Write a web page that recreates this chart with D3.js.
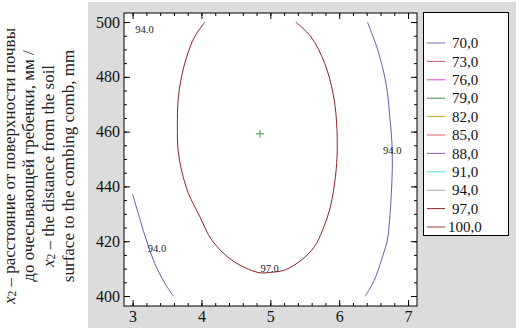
<!doctype html>
<html lang="ru">
<head>
    <meta charset="UTF-8">
    <title>Contour x1-x2</title>
    <style>
        body { margin: 0; background: #fff; }
        svg text { font-family: "Liberation Serif", "DejaVu Serif", serif; }
        .tick line { stroke: #000; }
        .tick text { font-size: 16px; fill: #111; }
    </style>
</head>
<body>
    <svg width="519" height="333"></svg>
    <script src="https://cdn.jsdelivr.net/npm/d3@7"></script>
    <script>
        // values
        const xTicks = [3, 4, 5, 6, 7],
            yTicks = [400, 420, 440, 460, 480, 500];

        const legendLevels = ["70,0", "73,0", "76,0", "79,0", "82,0", "85,0", "88,0", "91,0", "94,0", "97,0", "100,0"],
            legendColors = ["#7272bd", "#c45a5a", "#e044e0", "#3f8a3f", "#b3b035", "#e06464", "#8464b0", "#4ee0e0", "#a6a6a6", "#8e2424", "#a33a3a"];

        // contour lines [x1, x2]
        const contour97 = [
            [4.05, 500], [3.90, 494.6], [3.78, 486.9], [3.71, 480.0], [3.66, 471.5], [3.65, 462.4],
            [3.66, 453.3], [3.71, 446.0], [3.81, 437.5], [3.98, 428.8], [4.15, 420.4], [4.44, 413.1],
            [4.82, 408.6], [4.99, 408.6], [5.21, 409.5], [5.45, 413.1], [5.64, 418.0], [5.76, 424.1],
            [5.86, 431.4], [5.93, 440.5], [5.97, 451.5], [5.96, 464.2], [5.91, 474.0], [5.79, 484.9],
            [5.59, 494.6], [5.37, 500]
        ];
        const contour94Left = [
            [3.00, 437.2], [3.11, 427.7], [3.20, 420.4], [3.32, 411.9], [3.47, 404.6], [3.59, 400]
        ];
        const contour94Right = [
            [6.41, 500], [6.56, 489.8], [6.68, 477.6], [6.73, 466.8], [6.77, 453.3], [6.76, 438.7],
            [6.70, 420.4], [6.66, 416.8], [6.51, 405.8], [6.38, 400]
        ];
        const contourLabels = [
            {text: "94.0", x: 3.04, y: 497.5, anchor: "start"},
            {text: "94.0", x: 3.22, y: 417.5, anchor: "start"},
            {text: "94.0", x: 6.77, y: 453.3, anchor: "middle"},
            {text: "97.0", x: 4.99, y: 410.2, anchor: "middle"}
        ];
        const optimum = [4.85, 459.2];

        const svg = d3.select("svg"),
            plot = {left: 124, top: 13, right: 417, bottom: 306};

        svg.append("rect")
            .attr("x", 88).attr("y", 2).attr("width", 428).attr("height", 326)
            .attr("fill", "#dcdcdc");

        svg.append("rect")
            .attr("x", plot.left).attr("y", plot.top)
            .attr("width", plot.right - plot.left).attr("height", plot.bottom - plot.top)
            .attr("fill", "#fff");

        const x = d3.scaleLinear()
            .domain([2.875, 7.13])
            .range([plot.left, plot.right]);

        const y = d3.scaleLinear()
            .domain([396.35, 503.3])
            .range([plot.bottom, plot.top]);

        const xMinor = d3.range(3, 7.001, 0.2),
            yMinor = d3.range(400, 500.01, 5);

        // minor ticks, all four sides, pointing inward
        svg.append("g").attr("transform", "translate(0," + plot.bottom + ")")
            .call(d3.axisBottom(x).tickValues(xMinor).tickSize(-3).tickFormat(""));
        svg.append("g").attr("transform", "translate(0," + plot.top + ")")
            .call(d3.axisTop(x).tickValues(xMinor).tickSize(-3).tickFormat(""));
        svg.append("g").attr("transform", "translate(" + plot.left + ",0)")
            .call(d3.axisLeft(y).tickValues(yMinor).tickSize(-3).tickFormat(""));
        svg.append("g").attr("transform", "translate(" + plot.right + ",0)")
            .call(d3.axisRight(y).tickValues(yMinor).tickSize(-3).tickFormat(""));

        // major ticks
        svg.append("g").attr("transform", "translate(0," + plot.bottom + ")")
            .call(d3.axisBottom(x).tickValues(xTicks).tickSize(-6).tickPadding(5).tickFormat(d3.format("d")));
        svg.append("g").attr("transform", "translate(0," + plot.top + ")")
            .call(d3.axisTop(x).tickValues(xTicks).tickSize(-6).tickFormat(""));
        svg.append("g").attr("transform", "translate(" + plot.left + ",0)")
            .call(d3.axisLeft(y).tickValues(yTicks).tickSize(-6).tickPadding(4).tickFormat(d3.format("d")));
        svg.append("g").attr("transform", "translate(" + plot.right + ",0)")
            .call(d3.axisRight(y).tickValues(yTicks).tickSize(-6).tickFormat(""));

        svg.selectAll(".domain").remove();

        svg.append("rect")
            .attr("x", plot.left).attr("y", plot.top)
            .attr("width", plot.right - plot.left).attr("height", plot.bottom - plot.top)
            .attr("fill", "none").attr("stroke", "#000").attr("stroke-width", 1);

        // contours
        const line = d3.line()
            .x(d => x(d[0]))
            .y(d => y(d[1]))
            .curve(d3.curveCatmullRom);

        svg.append("path").datum(contour97)
            .attr("d", line).attr("fill", "none").attr("stroke", "#8e2424").attr("stroke-width", 1);
        svg.append("path").datum(contour94Left)
            .attr("d", line).attr("fill", "none").attr("stroke", "#5f5fb0").attr("stroke-width", 1);
        svg.append("path").datum(contour94Right)
            .attr("d", line).attr("fill", "none").attr("stroke", "#5f5fb0").attr("stroke-width", 1);

        svg.selectAll(".clabel")
            .data(contourLabels)
            .enter().append("text")
            .attr("class", "clabel")
            .attr("x", d => x(d.x))
            .attr("y", d => y(d.y))
            .attr("dy", "0.35em")
            .attr("text-anchor", d => d.anchor)
            .attr("font-size", 10.5)
            .attr("fill", "#222")
            .text(d => d.text);

        // optimum marker
        svg.append("path")
            .attr("transform", "translate(" + x(optimum[0]) + "," + y(optimum[1]) + ")")
            .attr("fill", "none")
            .attr("stroke", "#3f9a3f")
            .attr("stroke-width", 1)
            .attr("d", "M-4,0H4M0,-4V4");

        // legend
        const legend = svg.append("g");
        legend.append("rect")
            .attr("x", 423.5).attr("y", 12.5).attr("width", 85).attr("height", 223)
            .attr("fill", "#fff").attr("stroke", "#000");

        const item = legend.selectAll(".item")
            .data(legendLevels)
            .enter().append("g")
            .attr("class", "item")
            .attr("transform", (d, i) => "translate(0," + (43 + i * 18.4) + ")");

        item.append("line")
            .attr("x1", 427).attr("x2", 445)
            .attr("stroke", (d, i) => legendColors[i]).attr("stroke-width", 1);

        item.append("text")
            .attr("x", (d, i) => d.length > 4 ? 448 : 452)
            .attr("dy", "0.35em")
            .attr("font-size", 15)
            .attr("fill", "#111")
            .text(d => d);

        // axis title (rotated)
        const titleLines = [
            [" – расстояние от поверхности почвы", true],
            ["до очесывающей гребенки, мм /", false],
            [" – the distance from the soil", true],
            ["surface to the combing comb, mm", false]
        ];
        const titleX = [9, 28, 47.5, 68];

        titleLines.forEach(function(t, i) {
            const tx = svg.append("text")
                .attr("transform", "translate(" + titleX[i] + ",166) rotate(-90)")
                .attr("text-anchor", "middle")
                .attr("dominant-baseline", "central")
                .attr("font-size", 17)
                .attr("fill", "#222");
            if (t[1]) {
                tx.append("tspan").attr("font-style", "italic").text("x");
                tx.append("tspan").attr("font-size", 11.5).attr("dy", 3).text("2");
                tx.append("tspan").attr("dy", -3).text(t[0]);
            } else {
                tx.text(t[0]);
            }
        });
    </script>
</body>
</html>
